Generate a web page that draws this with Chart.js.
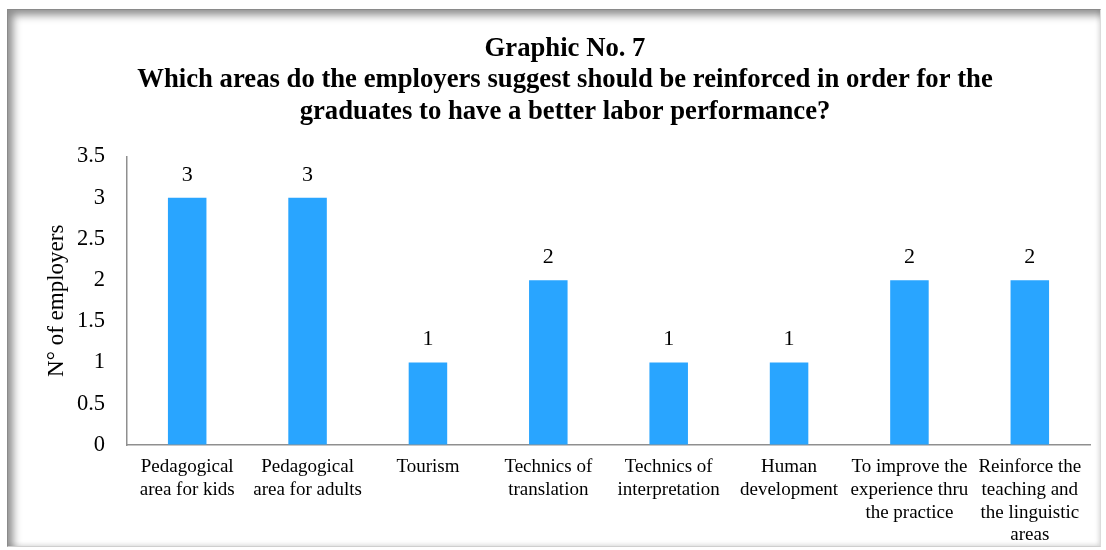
<!DOCTYPE html>
<html>
<head>
<meta charset="utf-8">
<script src="https://cdn.jsdelivr.net/npm/chart.js@4"></script>
<style>
  html, body { margin: 0; padding: 0; background: #fff; }
  #wrap { position: relative; width: 1106px; height: 550px; }
  #myChart { position: absolute; left: 0; top: 0; }
  /* shaded frame around the chart */
  #frame {
    position: absolute; left: 7px; top: 9px; width: 1092px; height: 536px;
    border-top: 1px solid #8a8a8a; border-left: 1px solid #8a8a8a;
    border-right: 1px solid #dcdcdc; border-bottom: 1px solid #cfcfcf;
    box-shadow: inset 5px 5px 8px rgba(0,0,0,0.45), inset -2px -2px 4px rgba(0,0,0,0.08);
    pointer-events: none;
  }
</style>
</head>
<body>
<div id="wrap">
  <canvas id="myChart" width="1106" height="550"></canvas>
  <div id="frame"></div>
</div>
<script>
const areas = [
  ["Pedagogical", "area for kids"],
  ["Pedagogical", "area for adults"],
  "Tourism",
  ["Technics of", "translation"],
  ["Technics of", "interpretation"],
  ["Human", "development"],
  ["To improve the", "experience thru", "the practice"],
  ["Reinforce the", "teaching and", "the linguistic", "areas"],
];
const employers = [3, 3, 1, 2, 1, 1, 2, 2];
const yTicks = [0, 0.5, 1, 1.5, 2, 2.5, 3, 3.5];

const titleLines = [
  "Graphic No. 7",
  "Which areas do the employers suggest should be reinforced in order for the",
  "graduates to have a better labor performance?",
];

const serif = "'Liberation Serif', 'Times New Roman', serif";

//Write the value above each bar
const barValues = {
  id: "barValues",
  afterDatasetsDraw(chart) {
    const c = chart.ctx;
    const meta = chart.getDatasetMeta(0);
    c.save();
    c.font = "22px " + serif;
    c.fillStyle = "#000";
    c.textAlign = "center";
    c.textBaseline = "middle";
    meta.data.forEach((bar, i) => {
      c.fillText(String(employers[i]), bar.x, bar.y - 23);
    });
    c.restore();
  },
};

const ctx = document.getElementById("myChart");

new Chart(ctx, {
  type: "bar",
  data: {
    labels: areas,
    datasets: [
      {
        data: employers,
        backgroundColor: "#29a5ff",
        borderWidth: 0,
        categoryPercentage: 1,
        barPercentage: 0.32,
      },
    ],
  },
  options: {
    responsive: false,
    animation: false,
    devicePixelRatio: 1,
    layout: { padding: { left: 40, right: 16, top: 20, bottom: 0 } },
    plugins: {
      legend: { display: false },
      tooltip: { enabled: false },
      title: {
        display: true,
        text: titleLines,
        color: "#000",
        font: { family: serif, size: 26.7, weight: "bold", lineHeight: 1.18 },
        padding: { top: 13, bottom: 29 },
      },
    },
    scales: {
      x: {
        grid: { display: true, drawOnChartArea: false, drawTicks: false },
        border: { display: true, color: "#8f8f8f", width: 1.5 },
        ticks: {
          color: "#000",
          font: { family: serif, size: 19, lineHeight: 1.19 },
          padding: 11,
          autoSkip: false,
          maxRotation: 0,
          minRotation: 0,
        },
        afterFit(scale) { scale.height = 105; },
      },
      y: {
        min: 0,
        max: 3.5,
        afterBuildTicks(scale) { scale.ticks = yTicks.map((v) => ({ value: v })); },
        grid: { display: true, drawOnChartArea: false, drawTicks: false },
        border: { display: true, color: "#8f8f8f", width: 1.5 },
        ticks: {
          color: "#000",
          font: { family: serif, size: 22.5 },
          padding: 22,
          callback: (value) => String(value),
        },
        title: {
          display: true,
          text: "N° of employers",
          color: "#000",
          font: { family: serif, size: 23 },
          padding: { top: 3, bottom: 0 },
        },
        afterFit(scale) { scale.width = 87; },
      },
    },
  },
  plugins: [barValues],
});
</script>
</body>
</html>
